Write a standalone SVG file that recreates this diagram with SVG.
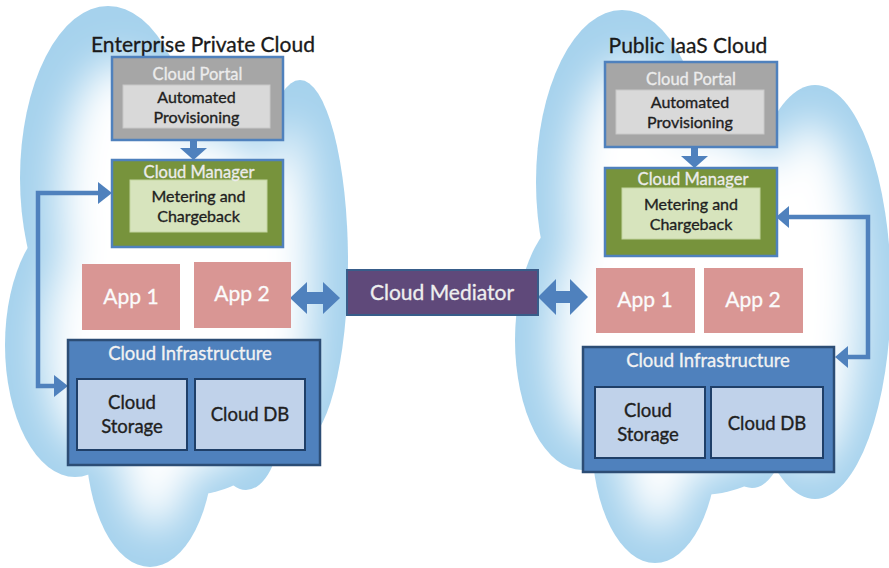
<svg xmlns="http://www.w3.org/2000/svg" width="889" height="568" viewBox="0 0 889 568">
<style>
text{font-family:Lato,"Liberation Sans",sans-serif;text-anchor:middle}
.title{font-size:21px;fill:#1a1a1a;stroke:#1a1a1a;stroke-width:0.3}
.hdr{font-size:16.5px;fill:#ececec;stroke:#ececec;stroke-width:0.3}
.ihdr{font-size:18.5px;fill:#f2f2f2;stroke:#f2f2f2;stroke-width:0.3}
.body{font-size:16px;fill:#1f1f1f;stroke:#1f1f1f;stroke-width:0.35}
.app{font-size:21px;fill:#fbfbfb;stroke:#fbfbfb;stroke-width:0.3}
.store{font-size:18.5px;fill:#1f1f1f;stroke:#1f1f1f;stroke-width:0.35}
.portal{fill:#a6a6a6;stroke:#4f81bd;stroke-width:2.5}
.pin{fill:#d9d9d9;stroke:#c8c8c8;stroke-width:1}
.mgr{fill:#77933c;stroke:#4f81bd;stroke-width:2.5}
.min{fill:#d7e4bd;stroke:#c3d5a0;stroke-width:1}
.appbox{fill:#d99694}
.infra{fill:#4f81bd;stroke:#2c4d75;stroke-width:2.5}
.iin{fill:#c0d2ea;stroke:#1f3f68;stroke-width:2}
.cblue{fill:#a6d2ed}
.cwhite{fill:#ffffff}
.line{fill:none;stroke:#4f81bd;stroke-width:4.5}
.head{fill:#4f81bd}
</style>
<defs>
<filter id="soft" x="-30%" y="-30%" width="160%" height="160%"><feGaussianBlur stdDeviation="20"/></filter>
</defs>
<rect width="889" height="568" fill="#ffffff"/>
<g id="cloud-left">
<g class="cblue">
<ellipse cx="108" cy="178" rx="88" ry="172"/>
<ellipse cx="300" cy="262" rx="48" ry="182"/>
<ellipse cx="75" cy="345" rx="70" ry="132"/>
<ellipse cx="150" cy="442" rx="64" ry="125"/>
<ellipse cx="246" cy="420" rx="35" ry="70"/>
<ellipse cx="190" cy="300" rx="140" ry="195"/>
</g>
<g class="cwhite" filter="url(#soft)">
<ellipse cx="120" cy="200" rx="60" ry="140"/>
<ellipse cx="290" cy="270" rx="22" ry="150"/>
<ellipse cx="90" cy="345" rx="45" ry="105"/>
<ellipse cx="155" cy="430" rx="38" ry="100"/>
<ellipse cx="190" cy="300" rx="115" ry="170"/>
</g>
</g>
<g id="cloud-right">
<g class="cblue">
<ellipse cx="622" cy="182" rx="86" ry="172"/>
<ellipse cx="815" cy="292" rx="76" ry="207"/>
<ellipse cx="582" cy="340" rx="67" ry="130"/>
<ellipse cx="655" cy="440" rx="63" ry="123"/>
<ellipse cx="752" cy="420" rx="35" ry="68"/>
<ellipse cx="700" cy="300" rx="150" ry="195"/>
</g>
<g class="cwhite" filter="url(#soft)">
<ellipse cx="630" cy="200" rx="60" ry="140"/>
<ellipse cx="810" cy="295" rx="50" ry="175"/>
<ellipse cx="595" cy="340" rx="42" ry="105"/>
<ellipse cx="658" cy="430" rx="38" ry="100"/>
<ellipse cx="700" cy="300" rx="125" ry="170"/>
</g>
</g>
<text class="title" x="203" y="52">Enterprise Private Cloud</text>
<text class="title" x="688" y="53">Public IaaS Cloud</text>
<g id="connectors">
<rect x="190" y="139" width="7" height="10" class="head"/>
<polygon class="head" points="180,148 207,148 193.5,160"/>
<rect x="691" y="146" width="7" height="11" class="head"/>
<polygon class="head" points="681,156 708,156 694.5,168"/>
<path class="line" d="M99,193 H38 V386 H55"/>
<polygon class="head" points="98,182 112,193 98,204"/>
<polygon class="head" points="54,375 68,386 54,397"/>
<path class="line" d="M788,217 H868 V357 H847"/>
<polygon class="head" points="789,206 776,217 789,228"/>
<polygon class="head" points="848,346 835,357 848,368"/>
<polygon class="head" points="290,298 307,282 307,292 323,292 323,282 340,298 323,314 323,304 307,304 307,314"/>
<polygon class="head" points="538,297 556,279 556,291 570,291 570,279 588,297 570,315 570,303 556,303 556,315"/>
</g>
<g id="portal-left">
<rect class="portal" x="112" y="57" width="171" height="83"/>
<rect class="pin" x="123" y="85" width="147" height="43"/>
<text class="hdr" x="197.5" y="80">Cloud Portal</text>
<text class="body" x="196.5" y="103">Automated</text>
<text class="body" x="196.5" y="123">Provisioning</text>
</g>
<g id="manager-left">
<rect class="mgr" x="112" y="160" width="171" height="87"/>
<rect class="min" x="130" y="180" width="137" height="52"/>
<text class="hdr" x="199" y="178">Cloud Manager</text>
<text class="body" x="198.5" y="202">Metering and</text>
<text class="body" x="198.5" y="222">Chargeback</text>
</g>
<g id="app1-left">
<rect class="appbox" x="82" y="264" width="98" height="66"/>
<text class="app" x="131" y="304">App 1</text>
</g>
<g id="app2-left">
<rect class="appbox" x="194" y="262" width="97" height="66"/>
<text class="app" x="242" y="301">App 2</text>
</g>
<g id="infra-left">
<rect class="infra" x="68" y="340" width="252" height="125"/>
<text class="ihdr" x="190" y="360">Cloud Infrastructure</text>
<rect class="iin" x="77" y="379" width="110" height="71"/>
<rect class="iin" x="195" y="379" width="110" height="71"/>
<text class="store" x="132" y="409">Cloud</text>
<text class="store" x="132" y="433">Storage</text>
<text class="store" x="250" y="421">Cloud DB</text>
</g>
<g id="mediator">
<rect x="347" y="270" width="191" height="45" fill="#5f497a" stroke="#385d8a" stroke-width="2"/>
<text x="442" y="300" style="font-size:21px;fill:#eeeeee;stroke:#eeeeee;stroke-width:0.3">Cloud Mediator</text>
</g>
<g id="portal-right">
<rect class="portal" x="605" y="62" width="172" height="85"/>
<rect class="pin" x="616" y="90" width="148" height="44"/>
<text class="hdr" x="691" y="85">Cloud Portal</text>
<text class="body" x="690" y="108">Automated</text>
<text class="body" x="690" y="128">Provisioning</text>
</g>
<g id="manager-right">
<rect class="mgr" x="605" y="168" width="172" height="88"/>
<rect class="min" x="622" y="188" width="138" height="51"/>
<text class="hdr" x="693" y="185">Cloud Manager</text>
<text class="body" x="691" y="210">Metering and</text>
<text class="body" x="691" y="230">Chargeback</text>
</g>
<g id="app1-right">
<rect class="appbox" x="596" y="268" width="99" height="65"/>
<text class="app" x="645" y="307">App 1</text>
</g>
<g id="app2-right">
<rect class="appbox" x="704" y="268" width="99" height="65"/>
<text class="app" x="753" y="307">App 2</text>
</g>
<g id="infra-right">
<rect class="infra" x="583" y="347" width="251" height="125"/>
<text class="ihdr" x="708" y="367">Cloud Infrastructure</text>
<rect class="iin" x="595" y="387" width="110" height="71"/>
<rect class="iin" x="711" y="387" width="112" height="71"/>
<text class="store" x="648" y="417">Cloud</text>
<text class="store" x="648" y="441">Storage</text>
<text class="store" x="767" y="430">Cloud DB</text>
</g>
</svg>
